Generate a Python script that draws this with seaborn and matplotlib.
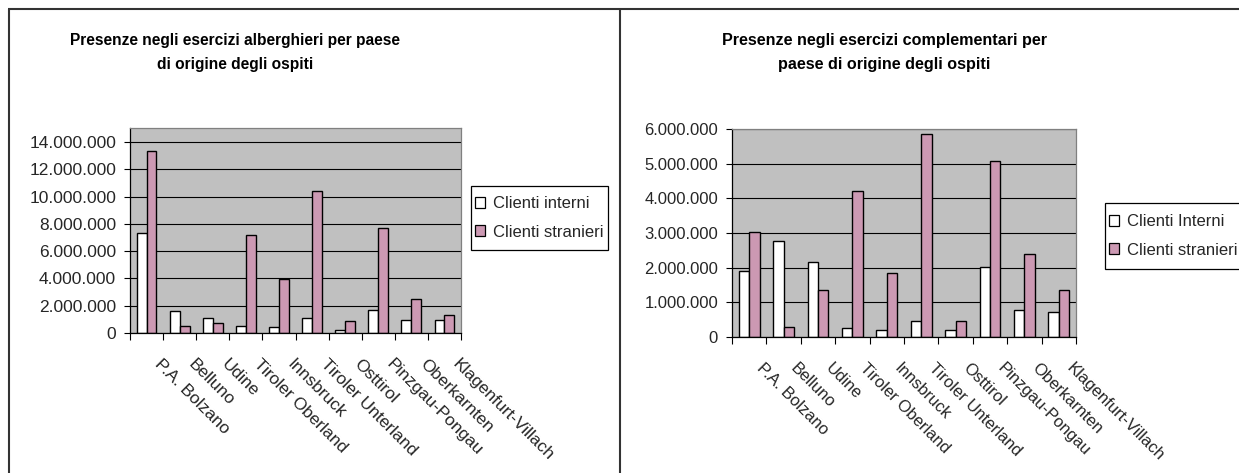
import numpy as np
import pandas as pd
import matplotlib
matplotlib.use("Agg")
import matplotlib.pyplot as plt
import matplotlib.transforms as mtransforms
import seaborn as sns
from matplotlib.ticker import FuncFormatter, FixedLocator
from matplotlib.lines import Line2D
from matplotlib.patches import Patch, Rectangle

# --- data -------------------------------------------------------------
regions = ["P.A. Bolzano", "Belluno", "Udine", "Tiroler Oberland", "Innsbruck",
           "Tiroler Unterland", "Osttirol", "Pinzgau-Pongau", "Oberkarnten",
           "Klagenfurt-Villach"]

hotel_domestic = [7_300_000, 1_600_000, 1_100_000, 500_000, 450_000,
                  1_100_000, 250_000, 1_720_000, 980_000, 980_000]
hotel_foreign = [13_380_000, 490_000, 740_000, 7_180_000, 3_950_000,
                 10_440_000, 860_000, 7_680_000, 2_480_000, 1_350_000]

compl_domestic = [1_910_000, 2_770_000, 2_150_000, 250_000, 190_000,
                  450_000, 190_000, 2_010_000, 770_000, 730_000]
compl_foreign = [3_030_000, 290_000, 1_370_000, 4_210_000, 1_860_000,
                 5_860_000, 450_000, 5_080_000, 2_390_000, 1_370_000]

hotel_title = ["Presenze negli esercizi alberghieri per paese",
               "di origine degli ospiti"]
compl_title = ["Presenze negli esercizi complementari per",
               "paese di origine degli ospiti"]
hotel_labels = ["Clienti interni", "Clienti stranieri"]
compl_labels = ["Clienti Interni", "Clienti stranieri"]

hotel_yticks = [0, 2_000_000, 4_000_000, 6_000_000, 8_000_000,
                10_000_000, 12_000_000, 14_000_000]
compl_yticks = [0, 1_000_000, 2_000_000, 3_000_000, 4_000_000,
                5_000_000, 6_000_000]

# --- style ------------------------------------------------------------
sns.set_theme(style="white")
plt.rcParams["font.family"] = ["Liberation Sans", "DejaVu Sans"]

W, H = 1239, 473
DPI = 100
fig = plt.figure(figsize=(W / DPI, H / DPI), dpi=DPI)
fig.patch.set_facecolor("white")

WHITE = "#FFFFFF"
MAUVE = "#CC99B3"
PLOT_BG = "#C0C0C0"


def fx(x):
    return x / W


def fy(y):
    return 1 - y / H


def px_axes(left, top, right, bottom):
    return fig.add_axes([fx(left), fy(bottom), (right - left) / W, (bottom - top) / H])


def dotted(v, _):
    return f"{int(round(v)):,}".replace(",", ".")


def draw_panel(ax, dom, fr, labels, ymax, yticks, label_dx, fs):
    df = pd.DataFrame({
        "region": regions * 2,
        "value": list(dom) + list(fr),
        "group": [labels[0]] * len(regions) + [labels[1]] * len(regions),
    })
    sns.barplot(data=df, x="region", y="value", hue="group",
                palette=[WHITE, MAUVE], saturation=1, edgecolor="black",
                linewidth=1.0, width=0.6, legend=False, ax=ax, errorbar=None)
    ax.set_facecolor(PLOT_BG)
    ax.set_xlim(-0.5, len(regions) - 0.5)
    ax.set_ylim(0, ymax)
    ax.set_yticks(yticks)
    ax.yaxis.set_major_formatter(FuncFormatter(dotted))
    ax.set_axisbelow(True)
    ax.yaxis.grid(True, color="black", linewidth=0.8)
    ax.xaxis.grid(False)
    ax.set_xlabel("")
    ax.set_ylabel("")
    # category boundaries carry the tick marks
    ax.xaxis.set_minor_locator(FixedLocator(np.arange(-0.5, len(regions), 1.0)))
    ax.tick_params(axis="x", which="major", length=0, pad=17, labelsize=fs)
    ax.tick_params(axis="x", which="minor", length=5, width=0.8, color="black",
                   direction="out", bottom=True)
    ax.tick_params(axis="y", which="major", length=4, width=0.8, color="black",
                   direction="out", left=True, labelsize=fs, pad=6)
    ax.set_xticks(range(len(regions)))
    ax.set_xticklabels(regions, rotation=-45, ha="left", va="top",
                       rotation_mode="anchor")
    shift = mtransforms.ScaledTranslation(label_dx / DPI, 0, fig.dpi_scale_trans)
    for lab in ax.get_xticklabels():
        lab.set_transform(lab.get_transform() + shift)
    for side in ("left", "bottom"):
        ax.spines[side].set_color("black")
        ax.spines[side].set_linewidth(0.9)
    for side in ("top", "right"):
        ax.spines[side].set_color("#808080")
        ax.spines[side].set_linewidth(0.9)


def legend_box(labels, left, top, right, bottom, fs):
    # outlined box, then the two entries laid inside it
    fig.add_artist(Rectangle((fx(left), fy(bottom)), (right - left) / W,
                             (bottom - top) / H, transform=fig.transFigure,
                             facecolor="white", edgecolor="black",
                             linewidth=0.9))
    handles = [Patch(facecolor=WHITE, edgecolor="black", linewidth=0.9),
               Patch(facecolor=MAUVE, edgecolor="black", linewidth=0.9)]
    fig.legend(handles, labels, loc="center left",
               bbox_to_anchor=(fx(left + 1), fy((top + bottom) / 2)),
               bbox_transform=fig.transFigure, frameon=False,
               borderaxespad=0, borderpad=0.2,
               handlelength=0.6, handleheight=0.6, handletextpad=0.45,
               labelspacing=0.8, fontsize=fs)


ax1 = px_axes(130, 128, 461, 333)
draw_panel(ax1, hotel_domestic, hotel_foreign, hotel_labels, 15_030_000,
           hotel_yticks, 16, 12.5)
legend_box(hotel_labels, 471, 186, 608, 250, 12)

ax2 = px_axes(732, 129, 1076, 337)
draw_panel(ax2, compl_domestic, compl_foreign, compl_labels, 6_000_000,
           compl_yticks, 15, 12)
legend_box(compl_labels, 1105, 203, 1260, 269, 12)

# chart titles
for cx, lines, size in ((235, hotel_title, 11.2), (884, compl_title, 11.6)):
    for cy, line in zip((40, 65), lines):
        fig.text(fx(cx), fy(cy), line, weight="bold", size=size,
                 ha="center", va="center", color="black")

# frame around the two chart objects
frame = dict(transform=fig.transFigure, color="#333333", linewidth=1.5,
             solid_capstyle="butt")
fig.add_artist(Line2D([fx(8), 1], [fy(9), fy(9)], **frame))
fig.add_artist(Line2D([fx(9), fx(9)], [fy(9), 0], **frame))
fig.add_artist(Line2D([fx(620), fx(620)], [fy(9), 0], **frame))

fig.savefig("out.png", dpi=DPI, facecolor="white")
